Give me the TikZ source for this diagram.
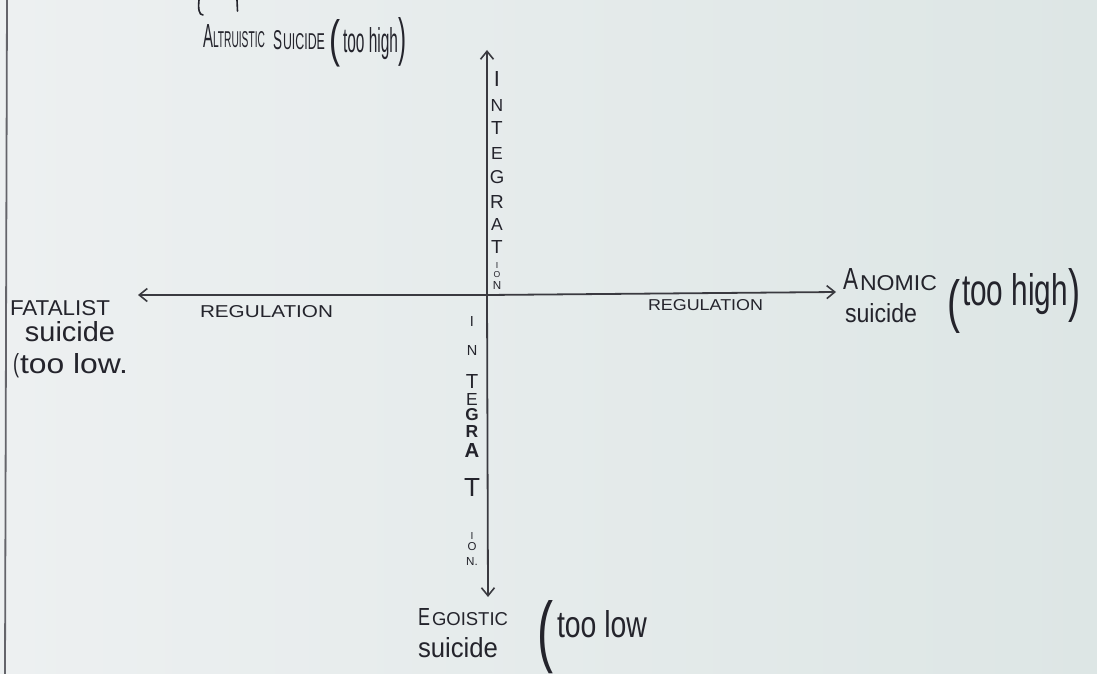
\documentclass[tikz,border=0pt]{standalone}
\usepackage{fontspec}
\setmainfont{Liberation Sans}
\usepackage{graphicx}
\usetikzlibrary{arrows.meta}
\definecolor{paperL}{RGB}{237,240,241}
\definecolor{paperR}{RGB}{221,230,229}
\definecolor{ink}{RGB}{36,36,44}
\definecolor{axisink}{RGB}{58,58,64}
\definecolor{marginrule}{RGB}{100,100,106}
\newcommand{\hb}[3]{\resizebox{#1pt}{#2pt}{#3}}
\newcommand{\hh}[2]{\resizebox{!}{#1pt}{#2}}
\begin{document}
\begin{tikzpicture}[x=1pt,y=-1pt,
  lbl/.style={inner sep=0pt, outer sep=0pt, text=ink, anchor=base west, font=\fontsize{20}{20}\selectfont},
  vl/.style={inner sep=0pt, outer sep=0pt, text=ink, anchor=center, font=\fontsize{20}{20}\selectfont},
  axisline/.style={draw=axisink, line width=1.8pt, line cap=round},
  barb/.style={-{Straight Barb[length=8pt,width=13pt,line width=1.6pt]}}
]
\useasboundingbox (0,0) rectangle (1097,674);
\shade[left color=paperL, right color=paperR] (0,0) rectangle (1097,674);
% page margin rule and cropped strokes at the top edge
\draw[marginrule, line width=1.8pt] (7,0) -- (5,674);
\draw[ink, line width=1.6pt, line cap=round] (199,0) .. controls (198,9) and (199,15) .. (203,15);
\draw[ink, line width=1.6pt, line cap=round] (237,0) -- (237.5,11);

% axes
\coordinate (o) at (487,295);
\coordinate (top) at (487,50);
\coordinate (bot) at (488,597);
\coordinate (lft) at (138,295);
\coordinate (rgt) at (836,292);
\draw[axisline, barb] (o) -- (top);
\draw[axisline, barb] (o) -- (bot);
\draw[axisline, barb] (o) -- (lft);
\draw[axisline, barb] (o) -- (rgt);

% top label
\node[lbl] (altA) at (203,48) {\hb{10}{23}{A}};
\node[lbl] (altB) at (213,48) {\hb{52}{16}{LTRUISTIC}};
\node[lbl] (sucA) at (273,50) {\hb{9}{19}{S}};
\node[lbl] (sucB) at (283,50) {\hb{42}{16}{UICIDE}};
\node[lbl] (tpl) at (329,57) {\hb{11}{37}{(}};
\node[lbl] (tph) at (343,53) {\hb{55}{25}{too high}};
\node[lbl] (tpr) at (398,56) {\hb{8}{38}{)}};

% left label
\node[lbl] (fat) at (10,315) {\hb{100}{15}{FATALIST}};
\node[lbl] (fsu) at (25,341) {\hb{90}{20}{suicide}};
\node[lbl] (flp) at (13,372) {\hb{6}{19}{(}};
\node[lbl] (flo) at (20,373) {\hb{108}{20}{too low.}};

% regulation labels
\node[lbl] (regL) at (200,317) {\hb{133}{12}{REGULATION}};
\node[lbl] (regR) at (648,310) {\hb{115}{11}{REGULATION}};

% right label
\node[lbl] (anA) at (843,289) {\hb{15}{21}{A}};
\node[lbl] (anB) at (860,290) {\hb{77}{15}{NOMIC}};
\node[lbl] (asu) at (845,322) {\hb{72}{19}{suicide}};
\node[lbl] (arl) at (947,321) {\hb{13}{42}{(}};
\node[lbl] (arh) at (962,305) {\hb{106}{32}{too high}};
\node[lbl] (arr) at (1068,310) {\hb{12}{42}{)}};

% bottom label
\node[lbl] (egA) at (418,625) {\hb{12}{17}{E}};
\node[lbl] (egB) at (432,625) {\hb{76}{13}{GOISTIC}};
\node[lbl] (esu) at (418,657) {\hb{80}{20}{suicide}};
\node[lbl] (elp) at (537,657) {\hb{16}{57}{(}};
\node[lbl] (elo) at (557,637) {\hb{90}{27}{too low}};

% vertical INTEGRATION (upper)
\foreach \ch/\yy/\hgt [count=\i] in {I/79/15, N/106/12, T/128/13, E/154/12, G/177/13, R/202/13, A/224/12, T/247/13, I/265/6, O/274.5/6, N/285/8}
  \node[vl] (up\i) at (497,\yy) {\hh{\hgt}{\ch}};

% vertical INTEGRATION (lower)
\foreach \ch/\yy/\hgt [count=\i] in {I/321/10, N/350/10, T/381/14, E/399/12, {\bfseries G}/415/12, {\bfseries R}/431/12, {\bfseries A}/450/14, T/487/18, I/536/7, O/547/8, N./561/8}
  \node[vl] (lo\i) at (472,\yy) {\hh{\hgt}{\ch}};
\end{tikzpicture}
\end{document}
